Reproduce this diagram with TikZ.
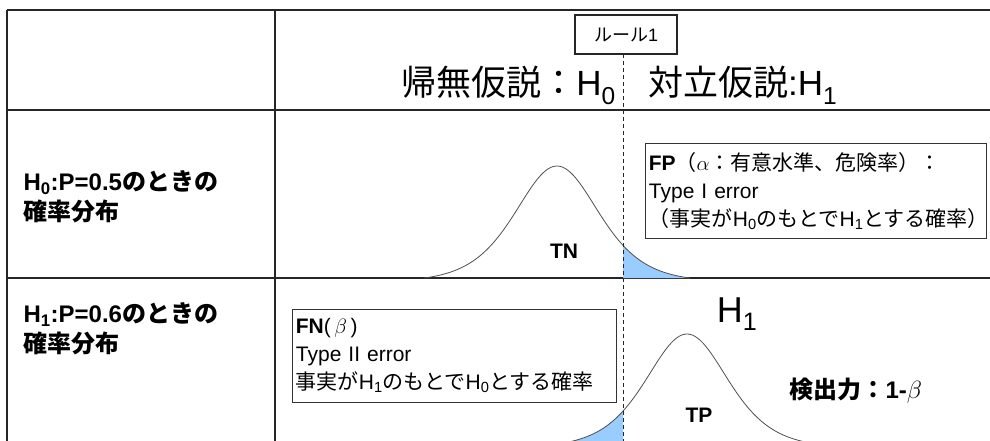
\documentclass[tikz,border=0pt]{standalone}
\usepackage{fontspec}
\setmainfont{Liberation Sans}
\newfontfamily\jp{Noto Sans CJK JP}
\definecolor{fillblue}{RGB}{153,204,255}
\definecolor{curvegray}{RGB}{80,80,80}
\newcommand\J[1]{{\jp #1}}
\newcommand\sbs[1]{\textsubscript{#1}}
\begin{document}
\begin{tikzpicture}[x=1pt,y=-1pt,
  declare function={gA(\x)=282-116/(cosh((\x-557)/56))^2;
                    gB(\x)=448-114/(cosh((\x-687)/55))^2;},
  hline/.style={line width=2pt,draw=black!85},
  vline/.style={line width=1.1pt,draw=black!85},
  curve/.style={line width=0.8pt,draw=curvegray},
  rulebox/.style={draw=black!85,line width=1.2pt,minimum width=102pt,minimum height=39pt,inner sep=0pt,font=\fontsize{18}{20}\selectfont},
  infobox/.style={draw=black!80,line width=0.8pt,anchor=north west,inner sep=3pt,align=left,font=\fontsize{21}{28}\selectfont},
  rowlabel/.style={anchor=west,align=left,font=\fontsize{24}{30}\selectfont\bfseries},
  headtxt/.style={font=\fontsize{35}{38}\selectfont},
  boldlab/.style={font=\fontsize{21}{24}\selectfont\bfseries},
]
\useasboundingbox (0,0) rectangle (990,441);
\fill[white] (0,0) rectangle (990,441);

% table
\draw[hline] (7,10) -- (990,10);
\draw[hline] (7,110) -- (990,110);
\draw[hline] (7,278) -- (990,278);
\draw[vline] (7,10) -- (7,441);
\draw[vline] (275,10) -- (275,441);

% H0 distribution
\fill[fillblue] (623,278) -- plot[domain=623:690,samples=40] (\x,{min(278,gA(\x))}) -- (690,278) -- cycle;
\draw[curve] plot[domain=424:690,samples=140] (\x,{min(278,gA(\x))});

% H1 distribution
\begin{scope}
\clip (0,0) rectangle (990,441);
\fill[fillblue] (555,450) -- plot[domain=555:623,samples=40] (\x,{gB(\x)}) -- (623,450) -- cycle;
\draw[curve] plot[domain=555:810,samples=140] (\x,{gB(\x)});
\end{scope}

% rule box and threshold
\node[rulebox] (rule) at (626,34.5) {\J{ルール}1};
\coordinate (dtop) at (623,54);
\coordinate (dbot) at (623,441);
\draw[dashed,dash pattern=on 4pt off 3pt,line width=0.9pt,black!85] (dtop) -- (dbot);

% headers
\node[headtxt,anchor=base east,inner sep=0pt] (h0) at (616,96) {\J{帰無仮説：}H\sbs{0}};
\node[headtxt,anchor=base west,inner sep=0pt] (h1) at (648,96) {\J{対立仮説}:H\sbs{1}};

% row labels
\node[rowlabel] (r0) at (20,197) {H\sbs{0}:P=0.5\J{\bfseries のときの}\\\J{\bfseries 確率分布}};
\node[rowlabel] (r1) at (20,329) {H\sbs{1}:P=0.6\J{\bfseries のときの}\\\J{\bfseries 確率分布}};

% info boxes
\node[infobox,minimum width=341pt,minimum height=95pt,text width=334pt] (fp) at (645,143)
  {\textbf{FP}\J{（}$\alpha$\J{：有意水準、危険率）：}\\Type I error\\\J{（事実が}H\sbs{0}\J{のもとで}H\sbs{1}\J{とする確率）}};
\node[infobox,minimum width=324pt,minimum height=93pt,text width=317pt] (fn) at (292,309)
  {\textbf{FN}(\,$\beta$\,)\\Type II error\\\J{事実が}H\sbs{1}\J{のもとで}H\sbs{0}\J{とする確率}};

% curve labels
\node[boldlab] (tn) at (564,251) {TN};
\node[boldlab] (tp) at (699,415) {TP};
\node[font=\fontsize{36}{40}\selectfont] (hh1) at (737,314) {H\sbs{1}};
\node[anchor=west,font=\fontsize{24}{28}\selectfont\bfseries] (power) at (786,391) {\J{\bfseries 検出力：}1-$\beta$};
\end{tikzpicture}
\end{document}
